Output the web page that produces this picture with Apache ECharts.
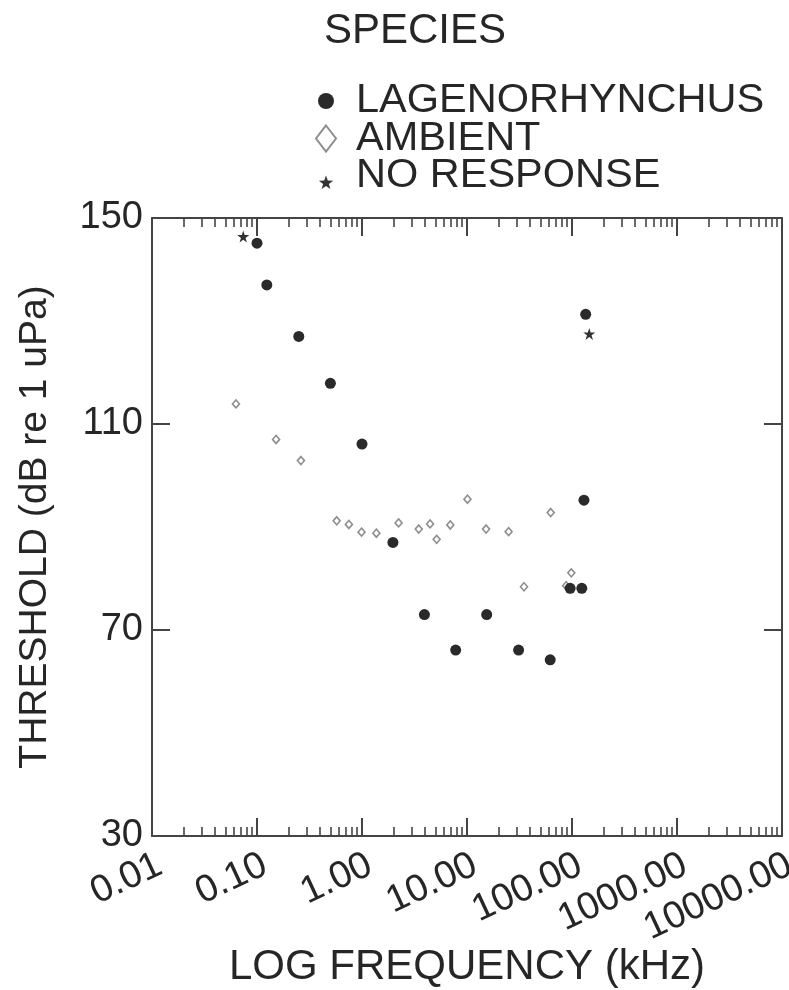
<!DOCTYPE html>
<html>
<head>
<meta charset="utf-8">
<script src="https://cdn.jsdelivr.net/npm/echarts@6/dist/echarts.min.js"></script>
<style>html,body{margin:0;padding:0;background:#fff}#c{width:789px;height:990px}</style>
</head>
<body>
<div id="c"></div>
<script>
// ---- data ----
const lagFreq = [0.1, 0.124, 0.25, 0.5, 1.0, 1.97, 3.93, 7.8, 15.4, 31, 62, 96, 124, 130, 135];
const lagThr  = [145.1, 137, 127, 117.9, 106.1, 87, 73, 66.1, 73, 66.1, 64.2, 78.1, 78.1, 95.2, 131.3];
const ambFreq = [0.063, 0.152, 0.262, 0.574, 0.75, 0.99, 1.37, 2.23, 3.47, 4.45, 5.14, 6.93, 10.1, 15.2, 24.9, 34.9, 62.7, 88, 98.5];
const ambThr  = [113.9, 107, 102.9, 91.2, 90.5, 89.0, 88.8, 90.8, 89.6, 90.6, 87.6, 90.4, 95.4, 89.6, 89.1, 78.4, 92.8, 78.6, 81.1];
const noFreq  = [0.074, 146];
const noThr   = [146.4, 127.5];
const xMajorTicks = [0.01, 0.1, 1, 10, 100, 1000, 10000];
const xMinorMult = [2, 3, 4, 5, 6, 7, 8, 9];
const yTicks = [30, 70, 110, 150];
const seriesNames = ['LAGENORHYNCHUS', 'AMBIENT', 'NO RESPONSE'];

const xMinorTicks = [];
xMajorTicks.slice(0, -1).forEach(d => xMinorMult.forEach(m => xMinorTicks.push(+(d * m).toPrecision(6))));

const pairs = (xs, ys) => xs.map((x, i) => [x, ys[i]]);
const FONT = '"Liberation Sans", Arial, sans-serif';
const AX = '#444';
const TXT = '#262626';

const starPath = 'path://M50,0 L61.2,34.5 L97.6,34.5 L68.2,55.9 L79.4,90.5 L50,69.1 L20.6,90.5 L31.8,55.9 L2.4,34.5 L38.8,34.5 Z';
const legDot = 'path://M0,0 M28,28 M6,14 A8,8 0 1,0 22,14 A8,8 0 1,0 6,14 Z';
const legDia = 'path://M0,0 M28,28 M14,1 L24,14 L14,27 L4,14 Z';
const legStar = 'path://M0,0 M28,28 M14,13.5 L15.76,18.57 L21.13,18.68 L16.85,21.93 L18.41,27.07 L14,24 L9.59,27.07 L11.15,21.93 L6.87,18.68 L12.24,18.57 Z';

const baseX = {type: 'log', logBase: 10, min: 0.01, max: 10000, gridIndex: 0, splitLine: {show: false}};

const chart = echarts.init(document.getElementById('c'), null, {renderer: 'canvas'});
chart.setOption({
  animation: false,
  backgroundColor: '#fff',
  textStyle: {fontFamily: FONT},
  title: {
    text: 'SPECIES', left: 319, top: 5,
    textStyle: {fontFamily: FONT, fontSize: 42, fontWeight: 'normal', color: TXT, lineHeight: 42}
  },
  legend: {
    orient: 'vertical', left: 311, top: 80, padding: 0, itemGap: -4.5,
    itemWidth: 50, itemHeight: 28, symbolKeepAspect: true,
    textStyle: {fontFamily: FONT, fontSize: 41.5, color: TXT, lineHeight: 36},
    data: [
      {name: seriesNames[0], icon: legDot},
      {name: seriesNames[1], icon: legDia},
      {name: seriesNames[2], icon: legStar}
    ]
  },
  grid: {left: 152, right: 7, top: 218, bottom: 154, containLabel: false, outerBoundsMode: 'none'},
  xAxis: [
    Object.assign({}, baseX, {
      position: 'bottom',
      name: 'LOG FREQUENCY (kHz)', nameLocation: 'middle', nameGap: 110, nameMoveOverlap: false,
      nameTextStyle: {fontFamily: FONT, fontSize: 42, color: TXT},
      axisLine: {show: true, lineStyle: {color: AX, width: 2}},
      axisTick: {show: true, inside: true, length: 18, customValues: xMajorTicks, lineStyle: {color: AX, width: 2}},
      axisLabel: {
        show: true, customValues: xMajorTicks, rotate: 25, margin: 10,
        align: 'right', verticalAlign: 'top',
        fontFamily: FONT, fontSize: 38, color: TXT,
        formatter: v => Number(v).toFixed(2)
      }
    }),
    Object.assign({}, baseX, {
      position: 'bottom',
      axisLine: {show: false},
      axisTick: {show: true, inside: true, length: 9, customValues: xMinorTicks, lineStyle: {color: AX, width: 1.6}},
      axisLabel: {show: false}
    }),
    Object.assign({}, baseX, {
      position: 'top',
      axisLine: {show: true, lineStyle: {color: AX, width: 2}},
      axisTick: {show: true, inside: true, length: 18, customValues: xMajorTicks, lineStyle: {color: AX, width: 2}},
      axisLabel: {show: false}
    }),
    Object.assign({}, baseX, {
      position: 'top',
      axisLine: {show: false},
      axisTick: {show: true, inside: true, length: 9, customValues: xMinorTicks, lineStyle: {color: AX, width: 1.6}},
      axisLabel: {show: false}
    })
  ],
  yAxis: [
    {
      type: 'value', position: 'left', min: 30, max: 150, interval: 40,
      name: 'THRESHOLD (dB re 1 uPa)', nameLocation: 'middle', nameGap: 97, nameMoveOverlap: false,
      nameTextStyle: {fontFamily: FONT, fontSize: 39, color: TXT},
      splitLine: {show: false},
      axisLine: {show: true, lineStyle: {color: AX, width: 2}},
      axisTick: {show: true, inside: true, length: 18, customValues: yTicks, lineStyle: {color: AX, width: 2}},
      axisLabel: {show: true, customValues: yTicks, margin: 9, fontFamily: FONT, fontSize: 38, color: TXT}
    },
    {
      type: 'value', position: 'right', min: 30, max: 150, interval: 40,
      splitLine: {show: false},
      axisLine: {show: true, lineStyle: {color: AX, width: 2}},
      axisTick: {show: true, inside: true, length: 18, customValues: yTicks, lineStyle: {color: AX, width: 2}},
      axisLabel: {show: false}
    }
  ],
  series: [
    {
      name: seriesNames[1], type: 'scatter', xAxisIndex: 0, yAxisIndex: 0,
      data: pairs(ambFreq, ambThr), symbol: 'diamond', symbolSize: [7, 8],
      itemStyle: {color: '#ffffff', borderColor: '#8e8e8e', borderWidth: 1.6, opacity: 1},
      z: 2
    },
    {
      name: seriesNames[0], type: 'scatter', xAxisIndex: 0, yAxisIndex: 0,
      data: pairs(lagFreq, lagThr), symbol: 'circle', symbolSize: 11,
      itemStyle: {color: '#2a2a2a', opacity: 1},
      z: 3
    },
    {
      name: seriesNames[2], type: 'scatter', xAxisIndex: 0, yAxisIndex: 0,
      data: pairs(noFreq, noThr), symbol: starPath, symbolSize: 12,
      itemStyle: {color: '#333333', opacity: 1},
      z: 4
    }
  ]
});
</script>
</body>
</html>
